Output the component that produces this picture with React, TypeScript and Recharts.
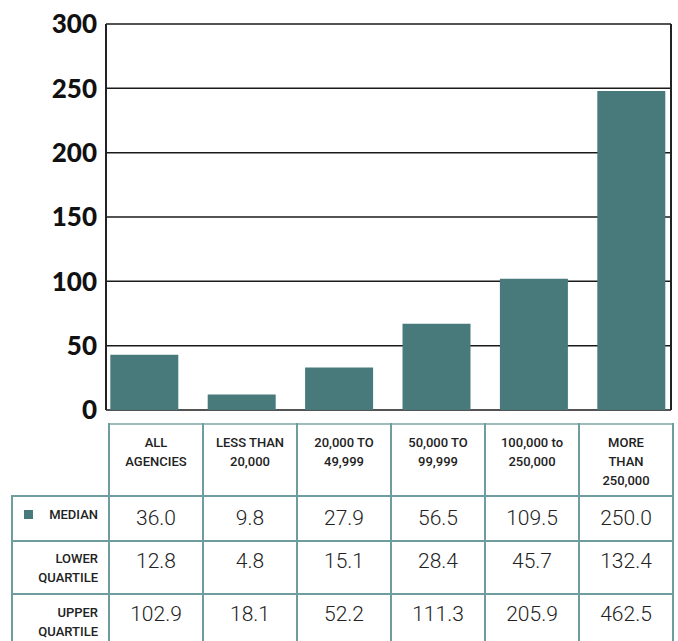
import { Bar, BarChart, CartesianGrid, XAxis, YAxis } from 'recharts';

const categories = [
  ['ALL', 'AGENCIES'],
  ['LESS THAN', '20,000'],
  ['20,000 TO', '49,999'],
  ['50,000 TO', '99,999'],
  ['100,000 to', '250,000'],
  ['MORE', 'THAN', '250,000'],
];
const barValues = [43, 12, 33, 67, 102, 248];
const medianValues = ['36.0', '9.8', '27.9', '56.5', '109.5', '250.0'];
const lowerValues = ['12.8', '4.8', '15.1', '28.4', '45.7', '132.4'];
const upperValues = ['102.9', '18.1', '52.2', '111.3', '205.9', '462.5'];
const yTicks = [0, 50, 100, 150, 200, 250, 300];

const TEAL = '#487a7c';
const BORDER = '#6f9c9e';

const data = categories.map((c, i) => ({ name: c.join(' '), value: barValues[i] }));

const cell: React.CSSProperties = {
  border: `2px solid ${BORDER}`,
  textAlign: 'center',
  verticalAlign: 'top',
  padding: 0,
};
const labelCell: React.CSSProperties = {
  ...cell,
  textAlign: 'right',
  paddingRight: 10,
  fontWeight: 500,
  fontSize: 13,
  lineHeight: '19px',
  color: '#222',
};
const valueStyle: React.CSSProperties = { fontWeight: 300, fontSize: 21, color: '#222', lineHeight: '24px' };

function Row({ label, values, height, pad, vpad }: { label: React.ReactNode; values: string[]; height: number; pad: number; vpad: number }) {
  return (
    <tr style={{ height }}>
      <td style={{ ...labelCell, paddingTop: pad }}>{label}</td>
      {values.map((v, i) => (
        <td key={i} style={{ ...cell, ...valueStyle, paddingTop: vpad }}>{v}</td>
      ))}
    </tr>
  );
}

export default function App() {
  return (
    <div style={{ position: 'absolute', left: 0, top: 0, width: 678, height: 641, overflow: 'hidden', background: '#fff', fontFamily: 'Roboto, sans-serif' }}>
      <BarChart width={678} height={430} data={data} margin={{ top: 24, right: 0, left: 0, bottom: 20 }}>
        <CartesianGrid vertical={false} stroke="#1a1a1a" strokeWidth={1.5} />
        <XAxis dataKey="name" height={0} tick={false} tickLine={false} axisLine={{ stroke: '#222', strokeWidth: 2 }} padding={{ left: -10.7, right: -8.7 }} />
        <YAxis
          width={106}
          domain={[0, 300]}
          ticks={yTicks}
          tickSize={0}
          tickMargin={9}
          tickLine={false}
          axisLine={{ stroke: '#222', strokeWidth: 2 }}
          tick={{ fontFamily: 'Lato', fontWeight: 900, fontSize: 26, fill: '#111' }}
        />
        <YAxis yAxisId="right" orientation="right" width={7} domain={[0, 300]} tick={false} tickLine={false} axisLine={{ stroke: '#222', strokeWidth: 2 }} />
        <Bar dataKey="value" fill={TEAL} barSize={68} isAnimationActive={false} />
      </BarChart>
      <table style={{ position: 'absolute', left: 11, top: 423, borderCollapse: 'collapse', tableLayout: 'fixed', width: 661 }}>
        <colgroup>
          <col style={{ width: 97 }} />
          {categories.map((_, i) => <col key={i} style={{ width: 94 }} />)}
        </colgroup>
        <tbody>
          <tr style={{ height: 72 }}>
            <td style={{ padding: 0, border: 'none', borderRight: `2px solid ${BORDER}` }} />
            {categories.map((c, i) => (
              <td key={i} style={{ ...cell, borderTop: '2px solid #9dbebf', paddingTop: 8, fontWeight: 500, fontSize: 13, lineHeight: '19px', color: '#222' }}>
                {c.map((l, j) => <div key={j}>{l}</div>)}
              </td>
            ))}
          </tr>
          <Row
            height={45}
            pad={8}
            vpad={9}
            values={medianValues}
            label={
              <div style={{ display: 'flex', justifyContent: 'space-between', alignItems: 'center', paddingLeft: 11 }}>
                <span style={{ width: 9, height: 9, background: TEAL, display: 'inline-block' }} />
                <span>MEDIAN</span>
              </div>
            }
          />
          <Row height={53} pad={7} vpad={7} values={lowerValues} label={<><div>LOWER</div><div>QUARTILE</div></>} />
          <Row height={53} pad={8} vpad={7} values={upperValues} label={<><div>UPPER</div><div>QUARTILE</div></>} />
        </tbody>
      </table>
    </div>
  );
}
